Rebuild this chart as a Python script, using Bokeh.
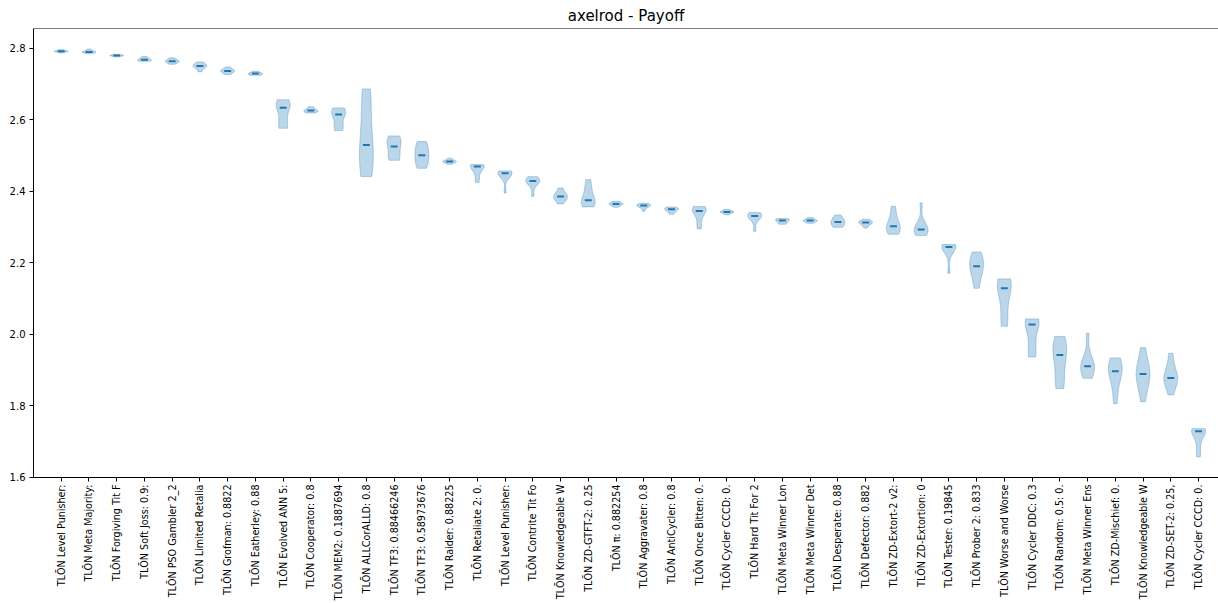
import numpy as np
from bokeh.plotting import figure
from bokeh.models import Range1d, FixedTicker, LinearAxis, Span, PrintfTickFormatter
from bokeh.embed import file_html
from bokeh.resources import INLINE

# Strategy names, in rank order (truncated the way the tournament report prints them)
names = [
    "TLŌN Level Punisher:", "TLŌN Meta Majority:", "TLŌN Forgiving Tit F",
    "TLŌN Soft Joss: 0.9:", "TLŌN PSO Gambler 2_2", "TLŌN Limited Retalia",
    "TLŌN Grofman: 0.8822", "TLŌN Eatherley: 0.88", "TLŌN Evolved ANN 5:",
    "TLŌN Cooperator: 0.8", "TLŌN MEM2: 0.1887694", "TLŌN ALLCorALLD: 0.8",
    "TLŌN TF3: 0.88466246", "TLŌN TF3: 0.58973676", "TLŌN Raider: 0.88225",
    "TLŌN Retaliate 2: 0.", "TLŌN Level Punisher:", "TLŌN Contrite Tit Fo",
    "TLŌN Knowledgeable W", "TLŌN ZD-GTFT-2: 0.25", "TLŌN π: 0.882254",
    "TLŌN Aggravater: 0.8", "TLŌN AntiCycler: 0.8", "TLŌN Once Bitten: 0.",
    "TLŌN Cycler CCCD: 0.", "TLŌN Hard Tit For 2", "TLŌN Meta Winner Lon",
    "TLŌN Meta Winner Det", "TLŌN Desperate: 0.88", "TLŌN Defector: 0.882",
    "TLŌN ZD-Extort-2 v2:", "TLŌN ZD-Extortion: 0", "TLŌN Tester: 0.19845",
    "TLŌN Prober 2: 0.833", "TLŌN Worse and Worse", "TLŌN Cycler DDC: 0.3",
    "TLŌN Random: 0.5: 0.", "TLŌN Meta Winner Ens", "TLŌN ZD-Mischief: 0.",
    "TLŌN Knowledgeable W", "TLŌN ZD-SET-2: 0.25,", "TLŌN Cycler CCCD: 0.",
]

# Mean payoff per repetition for each strategy
level_punisher_a = [2.7870, 2.7895, 2.7908, 2.7914, 2.7918, 2.7925, 2.7940, 2.7960]
meta_majority = [2.7852, 2.7875, 2.7888, 2.7896, 2.7902, 2.7910, 2.7935, 2.7983]
forgiving_tft = [2.7758, 2.7780, 2.7790, 2.7794, 2.7798, 2.7805, 2.7815, 2.7832]
soft_joss = [2.7637, 2.7645, 2.7655, 2.7670, 2.7690, 2.7705, 2.7730, 2.7768]
pso_gambler = [2.7552, 2.7595, 2.7615, 2.7630, 2.7644, 2.7660, 2.7690, 2.7732]
limited_retaliate = [2.7340, 2.7440, 2.7480, 2.7500, 2.7516, 2.7535, 2.7560, 2.7620]
grofman = [2.7265, 2.7310, 2.7340, 2.7360, 2.7376, 2.7395, 2.7420, 2.7480]
eatherley = [2.7245, 2.7255, 2.7270, 2.7285, 2.7299, 2.7310, 2.7325, 2.7357]
evolved_ann = [2.5762, 2.5800, 2.5920, 2.6320, 2.6360, 2.6420, 2.6500, 2.6563]
cooperator = [2.6193, 2.6205, 2.6225, 2.6250, 2.6264, 2.6285, 2.6315, 2.6368]
mem2 = [2.5698, 2.5740, 2.5850, 2.6120, 2.6170, 2.6220, 2.6280, 2.6333]
allcor_alld = [2.4411, 2.4470, 2.4950, 2.5250, 2.5344, 2.6100, 2.6700, 2.6864]
tf3_a = [2.4867, 2.4900, 2.4980, 2.5220, 2.5280, 2.5420, 2.5500, 2.5550]
tf3_b = [2.4643, 2.4720, 2.4850, 2.4980, 2.5036, 2.5200, 2.5300, 2.5390]
raider = [2.4755, 2.4800, 2.4815, 2.4826, 2.4836, 2.4850, 2.4870, 2.4923]
retaliate_2 = [2.4243, 2.4400, 2.4620, 2.4680, 2.4702, 2.4715, 2.4730, 2.4747]
level_punisher_b = [2.3955, 2.4440, 2.4475, 2.4495, 2.4513, 2.4530, 2.4550, 2.4570]
contrite_tft = [2.3860, 2.4180, 2.4240, 2.4280, 2.4300, 2.4320, 2.4360, 2.4410]
knowledgeable_a = [2.3647, 2.3740, 2.3800, 2.3840, 2.3864, 2.3900, 2.3980, 2.4095]
zd_gtft_2 = [2.3564, 2.3600, 2.3660, 2.3720, 2.3776, 2.3950, 2.4150, 2.4327]
pi_strategy = [2.3553, 2.3600, 2.3625, 2.3640, 2.3654, 2.3668, 2.3685, 2.3720]
aggravater = [2.3440, 2.3550, 2.3585, 2.3595, 2.3605, 2.3620, 2.3640, 2.3665]
anticycler = [2.3357, 2.3420, 2.3460, 2.3490, 2.3504, 2.3520, 2.3540, 2.3563]
once_bitten = [2.2948, 2.3100, 2.3400, 2.3440, 2.3462, 2.3500, 2.3540, 2.3572]
cycler_cccd_a = [2.3340, 2.3390, 2.3410, 2.3418, 2.3428, 2.3440, 2.3460, 2.3497]
hard_tit_for_2 = [2.2881, 2.3200, 2.3270, 2.3300, 2.3322, 2.3350, 2.3380, 2.3404]
meta_winner_long = [2.3077, 2.3100, 2.3140, 2.3172, 2.3188, 2.3210, 2.3225, 2.3237]
meta_winner_det = [2.3105, 2.3140, 2.3160, 2.3175, 2.3185, 2.3200, 2.3225, 2.3264]
desperate = [2.2993, 2.3020, 2.3080, 2.3130, 2.3158, 2.3200, 2.3260, 2.3340]
defector = [2.2976, 2.3060, 2.3100, 2.3118, 2.3130, 2.3150, 2.3180, 2.3217]
zd_extort_2_v2 = [2.2797, 2.2850, 2.2920, 2.2990, 2.3052, 2.3150, 2.3350, 2.3580]
zd_extortion = [2.2761, 2.2820, 2.2880, 2.2910, 2.2948, 2.2990, 2.3060, 2.3676]
tester = [2.1706, 2.2360, 2.2410, 2.2435, 2.2455, 2.2475, 2.2490, 2.2510]
prober_2 = [2.1287, 2.1550, 2.1750, 2.1870, 2.1934, 2.2050, 2.2200, 2.2305]
worse_and_worse = [2.0224, 2.0350, 2.0800, 2.1250, 2.1324, 2.1400, 2.1480, 2.1550]
cycler_ddc = [1.9368, 1.9450, 1.9700, 2.0240, 2.0302, 2.0350, 2.0400, 2.0431]
random_05 = [1.8481, 1.8600, 1.8900, 1.9380, 1.9468, 1.9600, 1.9750, 1.9936]
meta_winner_ens = [1.8769, 1.8900, 1.9000, 1.9080, 1.9130, 1.9200, 1.9350, 2.0028]
zd_mischief = [1.8061, 1.8500, 1.8800, 1.8940, 1.8990, 1.9100, 1.9250, 1.9340]
knowledgeable_b = [1.8117, 1.8500, 1.8700, 1.8860, 1.8924, 1.9050, 1.9250, 1.9628]
zd_set_2 = [1.8305, 1.8580, 1.8700, 1.8760, 1.8800, 1.8900, 1.9150, 1.9469]
cycler_cccd_b = [1.6571, 1.6800, 1.7220, 1.7270, 1.7304, 1.7320, 1.7340, 1.7362]

payoffs = [
    level_punisher_a, meta_majority, forgiving_tft, soft_joss, pso_gambler,
    limited_retaliate, grofman, eatherley, evolved_ann, cooperator, mem2,
    allcor_alld, tf3_a, tf3_b, raider, retaliate_2, level_punisher_b,
    contrite_tft, knowledgeable_a, zd_gtft_2, pi_strategy, aggravater,
    anticycler, once_bitten, cycler_cccd_a, hard_tit_for_2, meta_winner_long,
    meta_winner_det, desperate, defector, zd_extort_2_v2, zd_extortion, tester,
    prober_2, worse_and_worse, cycler_ddc, random_05, meta_winner_ens,
    zd_mischief, knowledgeable_b, zd_set_2, cycler_cccd_b,
]

y_ticks = [1.6, 1.8, 2.0, 2.2, 2.4, 2.6, 2.8]

BLUE = "#1f77b4"
FONT = "DejaVu Sans"
VIOLIN_WIDTH = 0.5


def violin_outline(samples, pos, width=VIOLIN_WIDTH, points=100):
    """Gaussian KDE (Scott's rule), evaluated between the sample extremes."""
    d = np.asarray(samples, dtype=float)
    bw = d.std(ddof=1) * d.size ** (-0.2)
    ys = np.linspace(d.min(), d.max(), points)
    dens = np.exp(-0.5 * ((ys[:, None] - d[None, :]) / bw) ** 2).sum(axis=1)
    half = dens / dens.max() * width / 2
    xs = np.concatenate([pos - half, (pos + half)[::-1]])
    yy = np.concatenate([ys, ys[::-1]])
    return xs.tolist(), yy.tolist()


positions = list(range(1, len(names) + 1))
xs_all, ys_all = [], []
for pos, s in zip(positions, payoffs):
    xs, ys = violin_outline(s, pos)
    xs_all.append(xs)
    ys_all.append(ys)
medians = [float(np.median(s)) for s in payoffs]

# value axis: data extent plus a 5% margin on each side
all_vals = np.concatenate([np.asarray(s) for s in payoffs])
span = all_vals.max() - all_vals.min()
y_lo = min(all_vals.min() - 0.05 * span, y_ticks[0] - 0.0005)
y_hi = all_vals.max() + 0.05 * span

p = figure(
    width=1218, height=603,
    output_backend="svg", toolbar_location=None,
    x_range=Range1d(0, 42.72), y_range=Range1d(y_lo, y_hi),
    x_axis_type=None, y_axis_type=None,
    min_border_left=33, min_border_right=0,
    min_border_top=28, min_border_bottom=126,
    background_fill_color="white", border_fill_color="white",
)
p.outline_line_color = None
p.grid.visible = False

p.title.text = "axelrod - Payoff"
p.title.align = "center"
p.title.text_font = FONT
p.title.text_font_size = "15px"
p.title.text_font_style = "normal"
p.title.text_color = "black"
p.title.standoff = 7
p.title.offset = 0

p.patches(xs_all, ys_all, fill_color=BLUE, fill_alpha=0.3,
          line_color=BLUE, line_alpha=0.3, line_width=1)
p.segment(x0=[x - VIOLIN_WIDTH / 4 for x in positions], y0=medians,
          x1=[x + VIOLIN_WIDTH / 4 for x in positions], y1=medians,
          line_color=BLUE, line_width=2)

yaxis = LinearAxis(
    ticker=FixedTicker(ticks=y_ticks),
    formatter=PrintfTickFormatter(format="%.1f"),
)
xaxis = LinearAxis(
    ticker=FixedTicker(ticks=positions),
    major_label_overrides={pos: nm for pos, nm in zip(positions, names)},
    major_label_orientation=np.pi / 2,
)
for ax in (xaxis, yaxis):
    ax.axis_line_color = "black"
    ax.axis_line_width = 1
    ax.major_tick_line_color = "black"
    ax.major_tick_line_width = 1
    ax.major_tick_in = 0
    ax.major_tick_out = 4
    ax.minor_tick_line_color = None
    ax.major_label_text_font = FONT
    ax.major_label_text_color = "black"
xaxis.major_label_text_font_size = "9.6px"
yaxis.major_label_text_font_size = "10px"
xaxis.major_label_standoff = 3
yaxis.major_label_standoff = 4
p.add_layout(xaxis, "below")
p.add_layout(yaxis, "left")

# top spine
p.add_layout(Span(location=y_hi, dimension="width", line_color="black", line_width=1))

open("out.html", "w").write(file_html(p, INLINE))
